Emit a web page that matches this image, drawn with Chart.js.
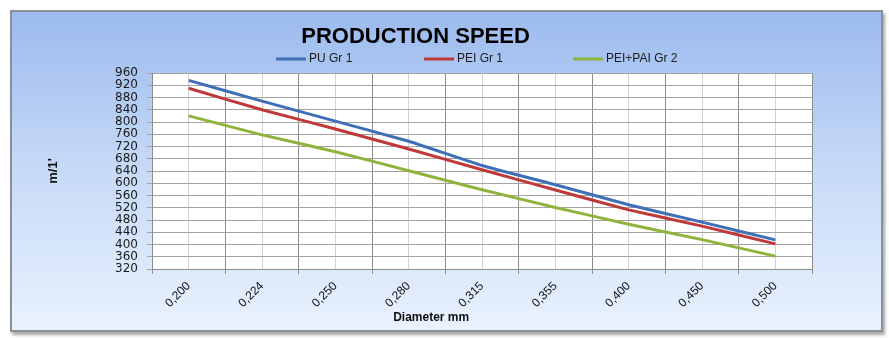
<!DOCTYPE html>
<html>
<head>
<meta charset="utf-8">
<script src="https://cdn.jsdelivr.net/npm/chart.js@4/dist/chart.umd.min.js"></script>
<style>
  html, body { margin: 0; padding: 0; background: #ffffff; }
  #wrap { position: relative; width: 889px; height: 338px; overflow: hidden; }
  #frame {
    position: absolute; left: 10px; top: 10px; width: 869px; height: 318px;
    border: 2px solid #8a8f98;
    box-shadow: 2px 3px 3px rgba(0,0,0,0.35);
    background: linear-gradient(to bottom, #9bbaee 0%, #c3d7f6 45%, #e9f2fe 100%);
  }
  #c { position: absolute; left: 0; top: 0; }
</style>
</head>
<body>
<div id="wrap">
  <div id="frame"></div>
  <canvas id="c" width="889" height="338"></canvas>
</div>
<script>
// ---- data ----
const categories = ['0,200', '0,224', '0,250', '0,280', '0,315', '0,355', '0,400', '0,450', '0,500'];
const puGr1     = [936, 868, 803, 737, 658, 595, 530, 473, 415];
const peiGr1    = [910, 840, 777, 712, 644, 578, 513, 460, 402];
const peiPaiGr2 = [820, 758, 703, 641, 579, 521, 466, 416, 362];
const seriesNames = ['PU Gr 1', 'PEI Gr 1', 'PEI+PAI Gr 2'];
const yMin = 320, yMax = 960, yStep = 40;
const chartTitle = 'PRODUCTION SPEED';
const xTitle = 'Diameter mm';
const yTitle = "m/1'";

const colors = ['#3f6fb6', '#c0393a', '#8fb43e'];

const plotBg = {
  id: 'plotBg',
  beforeDraw(chart) {
    const a = chart.chartArea, ctx = chart.ctx;
    ctx.save();
    ctx.fillStyle = '#ffffff';
    ctx.fillRect(a.left, a.top, a.right - a.left, a.bottom - a.top);
    ctx.restore();
  }
};

const headerPlugin = {
  id: 'headerPlugin',
  afterDraw(chart) {
    const ctx = chart.ctx;
    const cx = chart.width / 2;
    ctx.save();
    // title
    ctx.font = 'bold 22px "Liberation Sans", Arial, sans-serif';
    ctx.fillStyle = '#000';
    ctx.textAlign = 'center';
    ctx.textBaseline = 'middle';
    ctx.fillText(chartTitle, cx - 29, 37);
    // legend
    const starts = [cx - 168.5, cx - 20.5, cx + 128.5];
    const y = 59;
    ctx.font = '12px "Liberation Sans", Arial, sans-serif';
    ctx.textAlign = 'left';
    chart.data.datasets.forEach((ds, i) => {
      const x0 = starts[i];
      ctx.strokeStyle = ds.borderColor;
      ctx.lineWidth = 3;
      ctx.beginPath();
      ctx.moveTo(x0, y);
      ctx.lineTo(x0 + 30, y);
      ctx.stroke();
      ctx.fillStyle = '#1a1a1a';
      ctx.fillText(ds.label, x0 + 33, y);
    });
    // x axis title
    const a = chart.chartArea;
    ctx.font = 'bold 12px "Liberation Sans", Arial, sans-serif';
    ctx.fillStyle = '#111';
    ctx.textAlign = 'center';
    ctx.fillText(xTitle, a.left + (a.right - a.left) * 0.423, a.bottom + 49);
    ctx.restore();
  }
};

const datasets = [puGr1, peiGr1, peiPaiGr2].map((d, i) => ({
  label: seriesNames[i],
  data: d,
  borderColor: colors[i],
  backgroundColor: colors[i],
  borderWidth: 3,
  pointRadius: 0,
  tension: 0.1,
  xAxisID: 'x',
  yAxisID: 'y'
}));

new Chart(document.getElementById('c'), {
  type: 'line',
  data: { labels: categories, datasets },
  options: {
    responsive: false,
    animation: false,
    layout: { padding: { left: 40, right: 77, top: 73, bottom: 0 } },
    plugins: {
      legend: { display: false },
      tooltip: { enabled: false },
      title: { display: false }
    },
    scales: {
      x: {
        type: 'category',
        offset: true,
        grid: { offset: true, color: '#8c8c8c', tickLength: 5, drawTicks: true },
        border: { color: '#8c8c8c' },
        ticks: {
          minRotation: 45, maxRotation: 45, padding: 5,
          color: '#111',
          font: { family: '"Liberation Sans", Arial, sans-serif', size: 12 }
        },
        afterFit(s) { s.height = 69; }
      },
      x2: {
        type: 'category',
        labels: categories,
        position: 'bottom',
        offset: true,
        grid: { offset: false, color: '#d2d2d2', drawTicks: false },
        border: { display: false },
        ticks: { display: false },
        afterFit(s) { s.height = 0; }
      },
      y: {
        min: yMin, max: yMax,
        ticks: {
          stepSize: yStep, padding: 9, color: '#1a1a1a', autoSkip: false,
          font: { family: '"DejaVu Sans", Verdana, sans-serif', size: 12, lineHeight: 1 }
        },
        grid: { color: '#a3a3a3', tickLength: 5 },
        border: { color: '#8c8c8c' },
        title: {
          display: true, text: yTitle, color: '#111',
          font: { family: '"Liberation Sans", Arial, sans-serif', size: 13, weight: 'bold' },
          padding: { top: 6, bottom: 0 }
        },
        afterFit(s) { s.width = 112; }
      }
    }
  },
  plugins: [plotBg, headerPlugin]
});
</script>
</body>
</html>
